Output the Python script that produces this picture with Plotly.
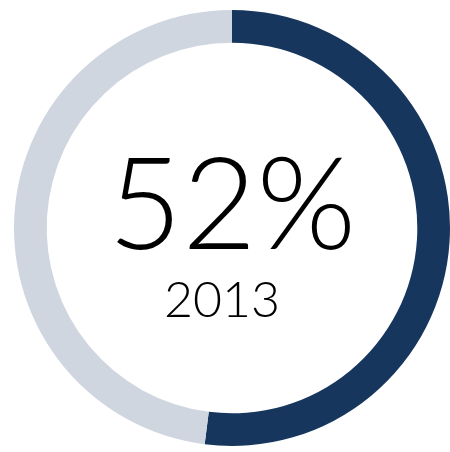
import plotly.graph_objects as go

labels = ["2013", "Rest"]
values = [52, 48]
colors = ["#17365d", "#cfd6df"]
center_value = "52%"
center_label = "2013"

W, H = 450, 452

fig = go.Figure(go.Pie(
    labels=labels,
    values=values,
    sort=False,
    direction="clockwise",
    rotation=0,
    hole=0.85,
    marker=dict(colors=colors, line=dict(width=0)),
    textinfo="none",
    hoverinfo="skip",
    showlegend=False,
    domain=dict(x=[14 / W, 1], y=[4 / H, 1 - 8 / H]),
))

fig.add_annotation(text=center_value, x=232 / W, y=1 - 199 / H, xref="paper", yref="paper",
                   showarrow=False, xanchor="center", yanchor="middle", height=124,
                   valign="middle",
                   font=dict(family="Lato", size=128, color="#000000", weight=300))
fig.add_annotation(text=center_label, x=222 / W, y=1 - 298 / H, xref="paper", yref="paper",
                   showarrow=False, xanchor="center", yanchor="middle",
                   font=dict(family="Lato", size=50, color="#000000", weight=300))

fig.update_layout(width=W, height=H, margin=dict(l=0, r=0, t=0, b=0),
                  paper_bgcolor="white", plot_bgcolor="white")

fig.write_html("out.html")
